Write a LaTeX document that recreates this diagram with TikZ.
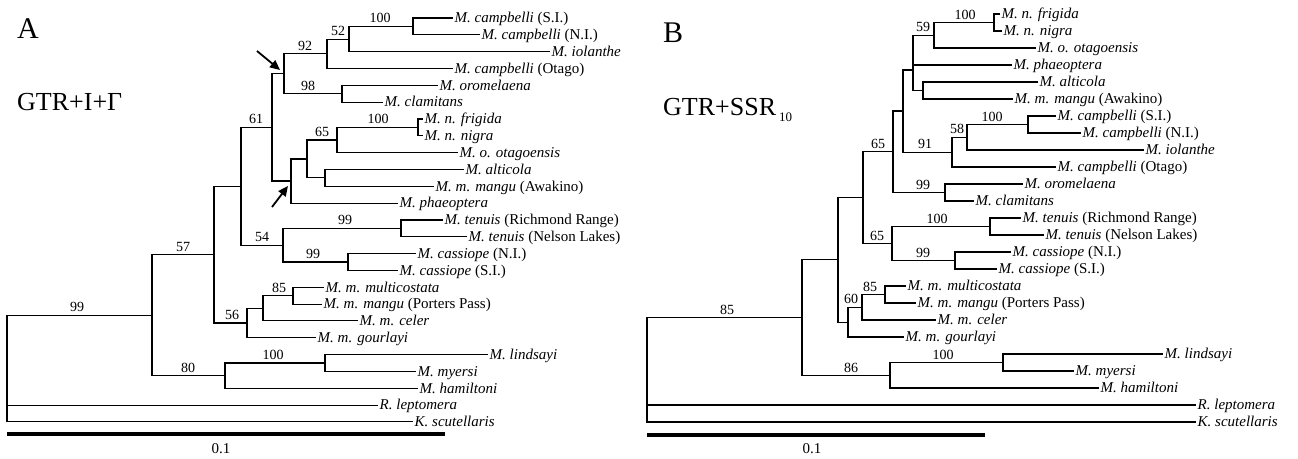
\documentclass[tikz,border=0pt]{standalone}
\usepackage{fontspec}
\setmainfont{Liberation Serif}
\usetikzlibrary{arrows.meta}
\begin{document}
\begin{tikzpicture}[x=1pt,y=-1pt,
  br/.style={line width=1.1pt, line cap=rect},
  leaf/.style={anchor=west, inner xsep=2.5pt, inner ysep=0pt, text height=9.5pt, text depth=0pt, font=\fontsize{15}{17}\selectfont},
  bs/.style={anchor=base, inner sep=0pt, font=\fontsize{14}{16}\selectfont},
  scalebar/.style={line width=3.5pt},
  arrowst/.style={line width=1.8pt, -{Triangle[length=10pt,width=9pt]}},
  ttl/.style={anchor=base west, inner sep=0pt, font=\fontsize{30}{32}\selectfont},
  mdl/.style={anchor=base west, inner sep=0pt, font=\fontsize{26}{30}\selectfont}]
\useasboundingbox[fill=white] (0,0) rectangle (1298,458);

% ---------- titles ----------
\node[ttl] (tA) at (17,38) {A};
\node[mdl] (mA) at (17,110) {GTR+I+Γ};
\node[ttl] (tB) at (663,42) {B};
\node[mdl] (mB) at (663,115) {GTR+SSR\hspace{3pt}\raisebox{-6pt}{\fontsize{13}{14}\selectfont 10}};

% ---------- left tree: leaves ----------
\node[leaf] (L0)  at (452,18.0)  {\textit{M. campbelli} (S.I.)};
\node[leaf] (L1)  at (479,34.8)  {\textit{M. campbelli} (N.I.)};
\node[leaf] (L2)  at (549,51.7)  {\textit{M. iolanthe}};
\node[leaf] (L3)  at (452,68.5)  {\textit{M. campbelli} (Otago)};
\node[leaf] (L4)  at (437,85.3)  {\textit{M. oromelaena}};
\node[leaf] (L5)  at (382,102.2) {\textit{M. clamitans}};
\node[leaf] (L6)  at (422,119.0) {\textit{M. n. frigida}};
\node[leaf] (L7)  at (422,135.8) {\textit{M. n. nigra}};
\node[leaf] (L8)  at (457,152.6) {\textit{M. o. otagoensis}};
\node[leaf] (L9)  at (463,169.5) {\textit{M. alticola}};
\node[leaf] (L10) at (433,186.3) {\textit{M. m. mangu} (Awakino)};
\node[leaf] (L11) at (397,203.1) {\textit{M. phaeoptera}};
\node[leaf] (L12) at (442,220.0) {\textit{M. tenuis} (Richmond Range)};
\node[leaf] (L13) at (466,236.8) {\textit{M. tenuis} (Nelson Lakes)};
\node[leaf] (L14) at (415,253.6) {\textit{M. cassiope} (N.I.)};
\node[leaf] (L15) at (397,270.5) {\textit{M. cassiope} (S.I.)};
\node[leaf] (L16) at (323,287.3) {\textit{M. m. multicostata}};
\node[leaf] (L17) at (321,304.1) {\textit{M. m. mangu} (Porters Pass)};
\node[leaf] (L18) at (357,320.9) {\textit{M. m. celer}};
\node[leaf] (L19) at (315,337.8) {\textit{M. m. gourlayi}};
\node[leaf] (L20) at (487,354.6) {\textit{M. lindsayi}};
\node[leaf] (L21) at (415,371.4) {\textit{M. myersi}};
\node[leaf] (L22) at (417,388.3) {\textit{M. hamiltoni}};
\node[leaf] (L23) at (377,405.1) {\textit{R. leptomera}};
\node[leaf] (L24) at (412,421.9) {\textit{K. scutellaris}};

% ---------- left tree: internal nodes ----------
\coordinate (lroot) at (7,315.2);
\coordinate (n99)  at (152,315.2);
\coordinate (n57)  at (214,254.7);
\coordinate (nD)   at (241,186.3);
\coordinate (n61)  at (272,127.4);
\coordinate (nA)   at (284,73.8);
\coordinate (n92)  at (327,53.8);
\coordinate (n52)  at (349,39.05);
\coordinate (c100) at (413,26.4);
\coordinate (n98)  at (342,93.75);
\coordinate (nC)   at (291,181);
\coordinate (nB)   at (307,159);
\coordinate (n65)  at (337,140);
\coordinate (nF)   at (418,127.4);
\coordinate (nAM)  at (325,177.9);
\coordinate (n54)  at (283,245.2);
\coordinate (nT)   at (401,228.4);
\coordinate (nCs)  at (348,262);
\coordinate (n56)  at (247,323);
\coordinate (n85)  at (263,308.3);
\coordinate (nMP)  at (293,295.7);
\coordinate (n80)  at (225,375.6);
\coordinate (nL)   at (325,363);

% ---------- left tree: branches ----------
\draw[br] (lroot) |- (n99);
\draw[br] (lroot) |- (L23.west);
\draw[br] (lroot) |- (L24.west);
\draw[br] (n99) |- (n57);
\draw[br] (n99) |- (n80);
\draw[br] (n57) |- (nD);
\draw[br] (n57) |- (n56);
\draw[br] (nD) |- (n61);
\draw[br] (nD) |- (n54);
\draw[br] (n61) |- (nA);
\draw[br] (n61) |- (nC);
\draw[br] (nA) |- (n92);
\draw[br] (nA) |- (n98);
\draw[br] (n92) |- (n52);
\draw[br] (n92) |- (L3.west);
\draw[br] (n52) |- (c100);
\draw[br] (n52) |- (L2.west);
\draw[br] (c100) |- (L0.west);
\draw[br] (c100) |- (L1.west);
\draw[br] (n98) |- (L4.west);
\draw[br] (n98) |- (L5.west);
\draw[br] (nC) |- (nB);
\draw[br] (nC) |- (L11.west);
\draw[br] (nB) |- (n65);
\draw[br] (nB) |- (nAM);
\draw[br] (n65) |- (nF);
\draw[br] (n65) |- (L8.west);
\draw[br] (nF) |- (L6.west);
\draw[br] (nF) |- (L7.west);
\draw[br] (nAM) |- (L9.west);
\draw[br] (nAM) |- (L10.west);
\draw[br] (n54) |- (nT);
\draw[br] (n54) |- (nCs);
\draw[br] (nT) |- (L12.west);
\draw[br] (nT) |- (L13.west);
\draw[br] (nCs) |- (L14.west);
\draw[br] (nCs) |- (L15.west);
\draw[br] (n56) |- (n85);
\draw[br] (n56) |- (L19.west);
\draw[br] (n85) |- (nMP);
\draw[br] (n85) |- (L18.west);
\draw[br] (nMP) |- (L16.west);
\draw[br] (nMP) |- (L17.west);
\draw[br] (n80) |- (nL);
\draw[br] (n80) |- (L22.west);
\draw[br] (nL) |- (L20.west);
\draw[br] (nL) |- (L21.west);

% ---------- left tree: support values ----------
\node[bs] (bl1)  at (380,22.9)  {100};
\node[bs] (bl2)  at (338,35.5)  {52};
\node[bs] (bl3)  at (305,50.3)  {92};
\node[bs] (bl4)  at (308,90.2)  {98};
\node[bs] (bl5)  at (378,123.9) {100};
\node[bs] (bl6)  at (322,136.5) {65};
\node[bs] (bl7)  at (256,123.9) {61};
\node[bs] (bl8)  at (345,224.9) {99};
\node[bs] (bl9)  at (313,258.5) {99};
\node[bs] (bl10) at (262,241.7) {54};
\node[bs] (bl11) at (279,292.2) {85};
\node[bs] (bl12) at (232,319.5) {56};
\node[bs] (bl13) at (183,251.2) {57};
\node[bs] (bl14) at (77,311.7)  {99};
\node[bs] (bl15) at (188,372.1) {80};
\node[bs] (bl16) at (273,359.5) {100};

% ---------- left tree: arrows ----------
\coordinate (ar1s) at (257,51);
\coordinate (ar1e) at (280,70);
\coordinate (ar2s) at (272,207);
\coordinate (ar2e) at (288,186);
\draw[arrowst] (ar1s) -- (ar1e);
\draw[arrowst] (ar2s) -- (ar2e);

% ---------- left scale bar ----------
\coordinate (sl1) at (7,434);
\coordinate (sl2) at (445,434);
\draw[scalebar] (sl1) -- (sl2);
\node[bs] (sll) at (221,453) {\fontsize{15}{16}\selectfont 0.1};

% ---------- right tree: leaves ----------
\node[leaf] (R0)  at (999,14)   {\textit{M. n. frigida}};
\node[leaf] (R1)  at (1001,31)  {\textit{M. n. nigra}};
\node[leaf] (R2)  at (1035,48)  {\textit{M. o. otagoensis}};
\node[leaf] (R3)  at (1011,65)  {\textit{M. phaeoptera}};
\node[leaf] (R4)  at (1037,82)  {\textit{M. alticola}};
\node[leaf] (R5)  at (1012,99)  {\textit{M. m. mangu} (Awakino)};
\node[leaf] (R6)  at (1055,116) {\textit{M. campbelli} (S.I.)};
\node[leaf] (R7)  at (1080,133) {\textit{M. campbelli} (N.I.)};
\node[leaf] (R8)  at (1143,150) {\textit{M. iolanthe}};
\node[leaf] (R9)  at (1055,167) {\textit{M. campbelli} (Otago)};
\node[leaf] (R10) at (1022,184) {\textit{M. oromelaena}};
\node[leaf] (R11) at (973,201)  {\textit{M. clamitans}};
\node[leaf] (R12) at (1020,218) {\textit{M. tenuis} (Richmond Range)};
\node[leaf] (R13) at (1043,235) {\textit{M. tenuis} (Nelson Lakes)};
\node[leaf] (R14) at (1010,252) {\textit{M. cassiope} (N.I.)};
\node[leaf] (R15) at (996,269)  {\textit{M. cassiope} (S.I.)};
\node[leaf] (R16) at (905,286)  {\textit{M. m. multicostata}};
\node[leaf] (R17) at (915,303)  {\textit{M. m. mangu} (Porters Pass)};
\node[leaf] (R18) at (935,320)  {\textit{M. m. celer}};
\node[leaf] (R19) at (903,337)  {\textit{M. m. gourlayi}};
\node[leaf] (R20) at (1162,354) {\textit{M. lindsayi}};
\node[leaf] (R21) at (1073,371) {\textit{M. myersi}};
\node[leaf] (R22) at (1098,388) {\textit{M. hamiltoni}};
\node[leaf] (R23) at (1195,405) {\textit{R. leptomera}};
\node[leaf] (R24) at (1195,422) {\textit{K. scutellaris}};

% ---------- right tree: internal nodes ----------
\coordinate (rroot) at (647,317.6);
\coordinate (r85r)  at (802,317.6);
\coordinate (rS)    at (838,259.9);
\coordinate (rR)    at (863,197.6);
\coordinate (r65)   at (893,151.75);
\coordinate (rQ)    at (903,111);
\coordinate (rP)    at (913,70);
\coordinate (r59)   at (934,35.25);
\coordinate (rF)    at (994,22.5);
\coordinate (rAM)   at (923,90.5);
\coordinate (r91)   at (952,152.1);
\coordinate (r58)   at (967,137.25);
\coordinate (rC)    at (1028,124.5);
\coordinate (r99a)  at (945,192.5);
\coordinate (r65b)  at (892,243.5);
\coordinate (rT)    at (990,226.5);
\coordinate (rCs)   at (955,260.5);
\coordinate (r60)   at (848,322.1);
\coordinate (r85)   at (862,307.25);
\coordinate (rMP)   at (885,294.5);
\coordinate (r86)   at (890,375.25);
\coordinate (rL)    at (1003,362.5);

% ---------- right tree: branches ----------
\draw[br] (rroot) |- (r85r);
\draw[br] (rroot) |- (R23.west);
\draw[br] (rroot) |- (R24.west);
\draw[br] (r85r) |- (rS);
\draw[br] (r85r) |- (r86);
\draw[br] (rS) |- (rR);
\draw[br] (rS) |- (r60);
\draw[br] (rR) |- (r65);
\draw[br] (rR) |- (r65b);
\draw[br] (r65) |- (rQ);
\draw[br] (r65) |- (r99a);
\draw[br] (rQ) |- (rP);
\draw[br] (rQ) |- (r91);
\draw[br] (rP) |- (r59);
\draw[br] (rP) |- (R3.west);
\draw[br] (rP) |- (rAM);
\draw[br] (r59) |- (rF);
\draw[br] (r59) |- (R2.west);
\draw[br] (rF) |- (R0.west);
\draw[br] (rF) |- (R1.west);
\draw[br] (rAM) |- (R4.west);
\draw[br] (rAM) |- (R5.west);
\draw[br] (r91) |- (r58);
\draw[br] (r91) |- (R9.west);
\draw[br] (r58) |- (rC);
\draw[br] (r58) |- (R8.west);
\draw[br] (rC) |- (R6.west);
\draw[br] (rC) |- (R7.west);
\draw[br] (r99a) |- (R10.west);
\draw[br] (r99a) |- (R11.west);
\draw[br] (r65b) |- (rT);
\draw[br] (r65b) |- (rCs);
\draw[br] (rT) |- (R12.west);
\draw[br] (rT) |- (R13.west);
\draw[br] (rCs) |- (R14.west);
\draw[br] (rCs) |- (R15.west);
\draw[br] (r60) |- (r85);
\draw[br] (r60) |- (R19.west);
\draw[br] (r85) |- (rMP);
\draw[br] (r85) |- (R18.west);
\draw[br] (rMP) |- (R16.west);
\draw[br] (rMP) |- (R17.west);
\draw[br] (r86) |- (rL);
\draw[br] (r86) |- (R22.west);
\draw[br] (rL) |- (R20.west);
\draw[br] (rL) |- (R21.west);

% ---------- right tree: support values ----------
\node[bs] (br1)  at (965,19)     {100};
\node[bs] (br2)  at (923,31.75)  {59};
\node[bs] (br3)  at (992,121)    {100};
\node[bs] (br4)  at (957,133.75) {58};
\node[bs] (br5)  at (925,148.6)  {91};
\node[bs] (br6)  at (878,148.25) {65};
\node[bs] (br7)  at (923,189)    {99};
\node[bs] (br8)  at (937,223)    {100};
\node[bs] (br9)  at (877,240)    {65};
\node[bs] (br10) at (923,257)    {99};
\node[bs] (br11) at (870,291)    {85};
\node[bs] (br12) at (851,303.75) {60};
\node[bs] (br13) at (943,359)    {100};
\node[bs] (br14) at (851,372)    {86};
\node[bs] (br15) at (727,314)    {85};

% ---------- right scale bar ----------
\coordinate (sr1) at (647,435);
\coordinate (sr2) at (985,435);
\draw[scalebar] (sr1) -- (sr2);
\node[bs] (srl) at (812,453) {\fontsize{15}{16}\selectfont 0.1};
\end{tikzpicture}
\end{document}
